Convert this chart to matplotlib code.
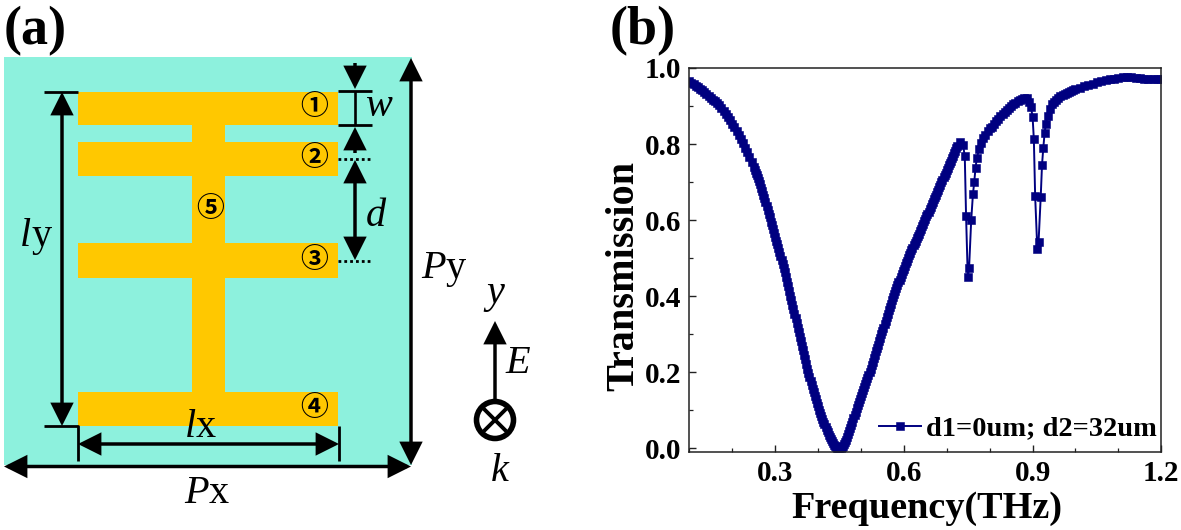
import matplotlib
matplotlib.use("Agg")
import matplotlib.pyplot as plt
from matplotlib.patches import Rectangle, FancyArrowPatch, Circle
from matplotlib.ticker import MultipleLocator

frequency = [
 .100,.105,.110,.115,.120,.125,.130,.135,.140,.145,.150,.155,.160,.165,.170,.175,.180,.185,.190,.195,
 .200,.205,.210,.215,.220,.225,.230,.235,.240,.245,
 .250,.2525,.255,.2575,.260,.2625,.265,.2675,.270,.2725,.275,.2775,.280,.2825,.285,.2875,.290,.2925,.295,.2975,
 .300,.3025,.305,.3075,.310,.3125,.315,.3175,.320,.3225,.325,.3275,.330,.3325,.335,.3375,.340,.3425,.345,.3475,
 .350,.3525,.355,.3575,.360,.3625,.365,.3675,.370,.3725,.375,.3775,.380,.3825,.385,.3875,.390,.3925,.395,.3975,
 .400,.4025,.405,.4075,.410,.4125,.415,.4175,.420,.4225,.425,.4275,.430,.4325,.435,.4375,.440,.4425,.445,.4475,
 .450,.4525,.455,.4575,.460,.4625,.465,.4675,.470,.4725,.475,.4775,.480,.4825,.485,.4875,.490,.4925,.495,.4975,
 .500,.5025,.505,.5075,.510,.5125,.515,.5175,.520,.5225,.525,.5275,.530,.5325,.535,.5375,.540,.5425,.545,.5475,
 .550,.5525,.555,.5575,.560,.5625,.565,.5675,.570,.5725,.575,.5775,.580,.5825,.585,.5875,.590,.5925,.595,.5975,
 .600,.6025,.605,.6075,.610,.6125,.615,.6175,.620,.6225,.625,.6275,.630,.6325,.635,.6375,.640,.6425,.645,.6475,
 .650,.6525,.655,.6575,.660,.6625,.665,.6675,.670,.6725,.675,.6775,.680,.6825,.685,.6875,.690,.6925,.695,.6975,
 .700,.7025,.705,.7075,.710,.7125,.715,.7175,.720,.7225,.725,
 .731,.738,.742,.745,.749,.752,.757,.761,.764,.767,.770,.775,.780,.785,
 .790,.795,.800,.805,.810,.815,.820,.825,.830,.835,.840,.845,.850,.855,.860,.865,.870,.875,.880,.887,
 .892,.896,.900,.903,.906,.911,.914,.919,.922,.925,.928,.931,.935,.940,.945,.950,.955,.960,.965,.970,
 .975,.980,.985,.990,.995,1.00,1.01,1.02,1.03,1.04,1.05,1.06,1.07,1.08,1.09,1.10,1.11,1.12,1.13,1.14,
 1.15,1.16,1.17,1.18,1.19,1.20]
transmission = [
 .965,.961,.957,.953,.949,.945,.941,.937,.932,.927,.922,.917,.912,.907,.902,.895,.888,.880,.872,.863,
 .853,.844,.834,.824,.813,.802,.790,.778,.765,.752,
 .739,.732,.725,.718,.710,.702,.694,.685,.676,.667,.657,.647,.637,.627,.617,.607,.596,.586,.576,.566,
 .556,.546,.536,.526,.516,.506,.495,.484,.473,.462,.450,.438,.426,.414,.401,.389,.377,.365,.353,.341,
 .329,.317,.305,.293,.281,.269,.257,.245,.233,.221,.209,.198,.187,.176,.166,.156,.147,.137,.128,.119,
 .110,.101,.093,.085,.077,.069,.062,.055,.048,.041,.035,.029,.023,.018,.013,.009,.006,.003,.001,.000,
 .000,.001,.003,.006,.010,.016,.022,.029,.036,.044,.052,.060,.069,.078,.087,.096,.105,.113,.121,.129,
 .137,.145,.153,.161,.169,.177,.185,.192,.200,.209,.218,.227,.236,.245,.254,.263,.272,.281,.290,.299,
 .308,.317,.326,.335,.344,.353,.362,.371,.380,.389,.398,.406,.413,.421,.428,.436,.443,.450,.457,.465,
 .472,.479,.486,.493,.500,.507,.513,.520,.526,.533,.539,.546,.552,.558,.564,.571,.577,.584,.590,.597,
 .603,.610,.616,.622,.628,.635,.641,.648,.654,.661,.667,.674,.680,.686,.692,.699,.705,.712,.718,.725,
 .731,.738,.744,.750,.756,.763,.769,.776,.782,.789,.795,
 .806,.797,.768,.611,.449,.473,.600,.668,.699,.737,.762,.786,.802,.815,
 .824,.833,.842,.846,.853,.860,.867,.873,.879,.884,.889,.894,.899,.904,.909,.913,.917,.919,.921,.920,
 .911,.898,.872,.812,.663,.524,.543,.661,.745,.790,.828,.852,.873,.892,.904,.911,.917,.922,.926,.929,
 .932,.935,.938,.940,.943,.945,.948,.953,.956,.959,.962,.965,.968,.970,.972,.975,.977,.977,.976,.974,
 .973,.972,.972,.971,.971,.971]
x_ticks = [0.3, 0.6, 0.9, 1.2]
y_ticks = [0.0, 0.2, 0.4, 0.6, 0.8, 1.0]
legend_label = "d1=0um; d2=32um"

W, H = 1181, 530
SERIF = "Liberation Serif"
CJK = ["Noto Sans CJK SC", "DejaVu Sans"]
fig = plt.figure(figsize=(W/100, H/100), dpi=100, facecolor="white")

# schematic panel, in figure pixels
d = fig.add_axes([0, 0, 1, 1])
d.set_xlim(0, W); d.set_ylim(H, 0); d.axis("off")
TEAL, GOLD = "#8DF1DD", "#FFC800"
d.add_patch(Rectangle((4, 57), 408, 408, fc=TEAL, ec="none"))
for y0, y1 in [(92, 125), (142, 176), (243, 278), (392, 426)]:
    d.add_patch(Rectangle((78, y0), 260, y1-y0, fc=GOLD, ec="none"))
d.add_patch(Rectangle((192, 125), 33, 267, fc=GOLD, ec="none"))

def arrow(a, b, style="-|>", lw=2.5, ms=32):
    d.add_patch(FancyArrowPatch(a, b, arrowstyle=style, mutation_scale=ms, lw=lw, color="black",
                                shrinkA=0, shrinkB=0, joinstyle="miter", capstyle="butt"))
def seg(xs, ys, lw=2.0, ls="-"):
    d.plot(xs, ys, color="black", lw=lw, ls=ls, solid_capstyle="butt", dash_capstyle="butt")

DOTS = (0, (1.0, 1.1))
arrow((62, 259), (62, 92)); arrow((62, 259), (62, 426))
seg([44, 78], [92, 92]); seg([44, 78, 78], [426, 426, 461])
seg([339, 339], [426, 461])
arrow((209, 444), (78, 444)); arrow((209, 444), (339, 444))
arrow((209, 466.5), (4, 466.5)); arrow((209, 466.5), (411, 466.5))
arrow((411, 262), (411, 58)); arrow((411, 262), (411, 465))
seg([338, 372], [91, 91]); seg([338, 372], [125, 125])
seg([355, 355], [91, 125], lw=1.9)
arrow((355, 63), (355, 89)); arrow((355, 153), (355, 127))
seg([338, 371], [159, 159], ls=DOTS); seg([338, 371], [261, 261], ls=DOTS)
arrow((355, 210), (355, 160)); arrow((355, 210), (355, 260))
arrow((495, 400), (495, 321))
d.add_patch(Circle((495, 420), 18.5, fc="white", ec="black", lw=4))
d.plot([485, 505], [410, 430], color="black", lw=2.8)
d.plot([485, 505], [430, 410], color="black", lw=2.8)

def label(x, y, parts, size=29):
    """parts: list of (string, italic) laid out left to right from x."""
    r = fig.canvas.get_renderer()
    for s, it in parts:
        t = d.text(x, y, s, fontsize=size, family=SERIF, style="italic" if it else "normal",
                   ha="left", va="baseline")
        x += t.get_window_extent(r).width
label(365, 116, [("w", True)])
label(366, 226, [("d", True)])
label(20, 246, [("l", True), ("y", False)])
label(185, 437, [("l", True), ("x", False)])
label(184, 503, [("P", True), ("x", False)])
label(421, 278, [("P", True), ("y", False)])
label(486, 303, [("y", True)])
label(505, 373, [("E", True)])
label(491, 481, [("k", True)])
for s, x, y in [("①", 314, 107), ("②", 314, 158), ("③", 314, 260), ("④", 314, 408), ("⑤", 210, 209)]:
    d.text(x, y, s, fontsize=20, family=CJK, weight="bold", ha="center", va="center", color="black")
d.text(4, 44, "(a)", fontsize=39, family=SERIF, weight="bold", ha="left", va="baseline")
d.text(610, 44, "(b)", fontsize=39, family=SERIF, weight="bold", ha="left", va="baseline")

# transmission panel
L, R, T, B = 689.3, 1161.3, 68, 452
ax = fig.add_axes([L/W, 1-B/H, (R-L)/W, (B-T)/H])
ax.patch.set_alpha(0)
ax.plot(frequency, transmission, color="#000080", lw=1.4, marker="s", ms=6.3, mew=0.4,
        clip_on=True, label=legend_label)
ax.set_xlim(0.1, 1.2); ax.set_ylim(-0.0105, 1.0)
ax.set_xticks(x_ticks); ax.set_yticks(y_ticks)
ax.set_xticklabels([f"{v:.1f}" for v in x_ticks])
ax.set_yticklabels([f"{v:.1f}" for v in y_ticks])
ax.xaxis.set_minor_locator(MultipleLocator(0.1))
ax.yaxis.set_minor_locator(MultipleLocator(0.1))
ax.tick_params(which="major", direction="in", length=5, width=1.0, top=False, right=False, pad=6, color="#222222")
ax.tick_params(which="minor", direction="in", length=3, width=0.9, top=False, right=False, color="#222222")
for sp in ax.spines.values():
    sp.set_linewidth(1.1); sp.set_color("#222222")
for t in ax.get_xticklabels() + ax.get_yticklabels():
    t.set_fontfamily(SERIF); t.set_fontweight("bold"); t.set_fontsize(21)
fig.text(927/W, 1-508/H, "Frequency(THz)", family=SERIF, weight="bold", fontsize=27.5,
         ha="center", va="center")
fig.text(624/W, 1-276/H, "Transmission", family=SERIF, weight="bold", fontsize=29,
         rotation=90, ha="center", va="center")
leg = ax.legend(loc="lower right", frameon=False, handlelength=1.5, handletextpad=0.18,
                borderaxespad=0, bbox_to_anchor=(1.015, -0.002),
                prop={"family": SERIF, "weight": "bold", "size": 20.4})
fig.savefig("out.png", dpi=100, facecolor="white")
